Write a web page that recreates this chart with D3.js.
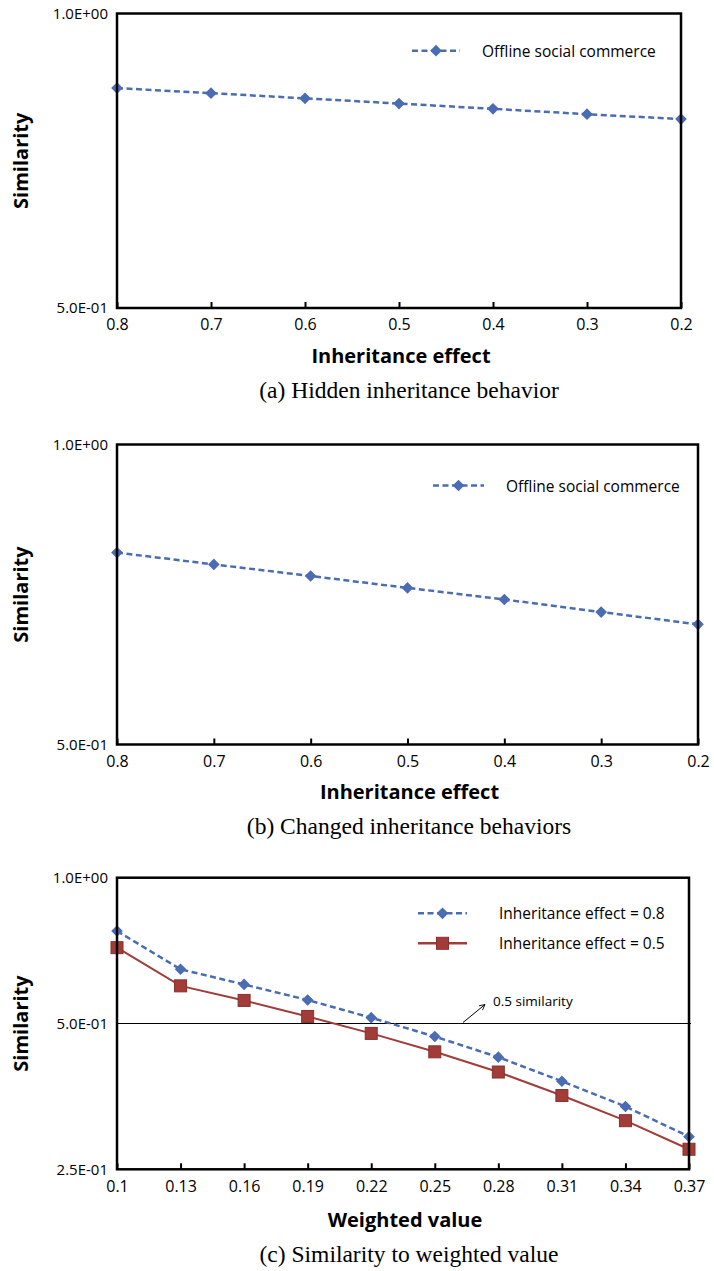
<!DOCTYPE html>
<html>
<head>
<meta charset="utf-8">
<script src="https://cdn.jsdelivr.net/npm/d3@7"></script>
<style>
  html, body { margin: 0; padding: 0; background: #fff; }
  svg { display: block; }
</style>
</head>
<body>
<svg id="chart" width="714" height="1271"></svg>
<script>
// ---------- data ----------
const inheritanceCats = ["0.8", "0.7", "0.6", "0.5", "0.4", "0.3", "0.2"];
const hiddenSimilarity = [0.839, 0.829, 0.819, 0.809, 0.799, 0.789, 0.780];
const changedSimilarity = [0.779, 0.758, 0.738, 0.718, 0.699, 0.679, 0.660];
const weightedCats = ["0.1", "0.13", "0.16", "0.19", "0.22", "0.25", "0.28", "0.31", "0.34", "0.37"];
const simIE08 = [0.776, 0.647, 0.602, 0.559, 0.514, 0.470, 0.426, 0.380, 0.337, 0.292];
const simIE05 = [0.717, 0.598, 0.558, 0.517, 0.477, 0.437, 0.397, 0.355, 0.315, 0.275];
const yTicksAB = [1.0, 0.5];
const yTicksC = [1.0, 0.5, 0.25];
const seriesNameOffline = "Offline social commerce";
const seriesName08 = "Inheritance effect = 0.8";
const seriesName05 = "Inheritance effect = 0.5";
const refLineValue = 0.5;
const refLineLabel = "0.5 similarity";

// ---------- styles ----------
const BLUE = "#4A6CB3";
const RED = "#A13C39";
const RED_DARK = "#8A302E";
const SANS = "'Open Sans', 'Noto Sans', sans-serif";
const SERIF = "'Liberation Serif', 'Times New Roman', serif";

const svg = d3.select("#chart");

svg.append("defs").append("marker")
  .attr("id", "arrow").attr("viewBox", "0 0 10 10")
  .attr("refX", 9).attr("refY", 5)
  .attr("markerWidth", 7).attr("markerHeight", 7)
  .attr("orient", "auto")
  .append("path").attr("d", "M1,1 L9,5 L1,9")
  .attr("fill", "none").attr("stroke", "#000").attr("stroke-width", 1.2);

function sci(v) {
  const [m, e] = v.toExponential(1).toUpperCase().split("E");
  const sign = e[0] === "-" ? "-" : "+";
  const n = Math.abs(parseInt(e, 10));
  return m + "E" + sign + (n < 10 ? "0" + n : n);
}

const diamond = d3.symbol().type(d3.symbolSquare).size(68);

function drawMarkers(g, kind, pts) {
  if (kind === "diamond") {
    g.selectAll(null).data(pts).enter().append("path")
      .attr("d", diamond)
      .attr("transform", d => `translate(${d[0]},${d[1]}) rotate(45)`)
      .attr("fill", BLUE);
  } else {
    g.selectAll(null).data(pts).enter().append("rect")
      .attr("x", d => d[0] - 6).attr("y", d => d[1] - 6)
      .attr("width", 12).attr("height", 12)
      .attr("fill", RED).attr("stroke", RED_DARK).attr("stroke-width", 1);
  }
}

function drawChart(cfg) {
  const g = svg.append("g");
  const x = d3.scalePoint().domain(cfg.cats).range([cfg.left, cfg.right]).padding(0);
  const y = d3.scaleLog().base(2).domain(cfg.yDomain).range([cfg.bottom, cfg.top]);

  if (cfg.refLine) {
    g.append("line")
      .attr("x1", cfg.left).attr("x2", cfg.right + 2)
      .attr("y1", y(refLineValue)).attr("y2", y(refLineValue))
      .attr("stroke", "#000").attr("stroke-width", 1);
  }

  cfg.series.forEach(s => {
    const pts = cfg.cats.map((c, i) => [x(c), y(s.values[i])]);
    g.append("path")
      .attr("d", d3.line()(pts))
      .attr("fill", "none")
      .attr("stroke", s.color)
      .attr("stroke-width", s.dash ? 2.5 : 2)
      .attr("stroke-dasharray", s.dash ? "6,3.5" : null);
    drawMarkers(g, s.marker, pts);
  });

  g.append("rect")
    .attr("x", cfg.left).attr("y", cfg.top)
    .attr("width", cfg.right - cfg.left).attr("height", cfg.bottom - cfg.top)
    .attr("fill", "none").attr("stroke", "#000").attr("stroke-width", 2.5);

  const xAxis = g.append("g").attr("transform", `translate(0,${cfg.bottom})`)
    .call(d3.axisBottom(x).tickSize(-6).tickPadding(11));
  xAxis.select(".domain").remove();
  xAxis.selectAll(".tick line").attr("stroke", "#000").attr("stroke-width", 2);
  xAxis.selectAll(".tick text")
    .attr("font-family", SANS).attr("font-size", 16).attr("fill", "#000")
    .attr("dy", "0.71em");

  const yAxis = g.append("g").attr("transform", `translate(${cfg.left},0)`)
    .call(d3.axisLeft(y).tickValues(cfg.yTicks).tickFormat(sci).tickSize(0).tickPadding(9));
  yAxis.select(".domain").remove();
  yAxis.selectAll(".tick text")
    .attr("font-family", SANS).attr("font-size", 15).attr("fill", "#000");

  g.append("text")
    .attr("x", (cfg.left + cfg.right) / 2 + 2).attr("y", cfg.xTitleY)
    .attr("text-anchor", "middle").attr("dominant-baseline", "central")
    .attr("font-family", SANS).attr("font-weight", "bold").attr("font-size", 20)
    .text(cfg.xTitle);
  g.append("text")
    .attr("transform", `translate(20,${(cfg.top + cfg.bottom) / 2}) rotate(-90)`)
    .attr("text-anchor", "middle").attr("dominant-baseline", "central")
    .attr("font-family", SANS).attr("font-weight", "bold").attr("font-size", 20)
    .text("Similarity");

  g.append("text")
    .attr("x", cfg.captionX).attr("y", cfg.captionY)
    .attr("text-anchor", "middle").attr("dominant-baseline", "central")
    .attr("font-family", SERIF).attr("font-size", 23.5)
    .text(cfg.caption);

  cfg.series.forEach((s, i) => {
    const ly = cfg.legend.y + i * cfg.legend.gap;
    g.append("line")
      .attr("x1", cfg.legend.x1).attr("x2", cfg.legend.x2)
      .attr("y1", ly).attr("y2", ly)
      .attr("stroke", s.color).attr("stroke-width", 2.5)
      .attr("stroke-dasharray", s.dash ? "6,3.5" : null);
    drawMarkers(g, s.marker, [[(cfg.legend.x1 + cfg.legend.x2) / 2, ly]]);
    g.append("text")
      .attr("x", cfg.legend.tx).attr("y", ly)
      .attr("dominant-baseline", "central")
      .attr("font-family", SANS).attr("font-size", 15.5)
      .text(s.name);
  });

  if (cfg.refLine) {
    const ya = y(refLineValue);
    g.append("line")
      .attr("x1", 463).attr("y1", ya - 1)
      .attr("x2", 485).attr("y2", ya - 19)
      .attr("stroke", "#000").attr("stroke-width", 1)
      .attr("marker-end", "url(#arrow)");
    g.append("text")
      .attr("x", 493).attr("y", ya - 23)
      .attr("dominant-baseline", "central")
      .attr("font-family", SANS).attr("font-size", 13.5)
      .text(refLineLabel);
  }
}

drawChart({
  cats: inheritanceCats, yDomain: [0.5, 1], yTicks: yTicksAB,
  left: 117, right: 681, top: 13.5, bottom: 308,
  xTitle: "Inheritance effect", xTitleY: 355,
  caption: "(a) Hidden inheritance behavior", captionX: 409, captionY: 390,
  series: [{ name: seriesNameOffline, values: hiddenSimilarity, color: BLUE, dash: true, marker: "diamond" }],
  legend: { x1: 412, x2: 460, y: 50.7, gap: 0, tx: 482 }
});

drawChart({
  cats: inheritanceCats, yDomain: [0.5, 1], yTicks: yTicksAB,
  left: 117, right: 698, top: 444.5, bottom: 744.5,
  xTitle: "Inheritance effect", xTitleY: 791,
  caption: "(b) Changed inheritance behaviors", captionX: 409, captionY: 826,
  series: [{ name: seriesNameOffline, values: changedSimilarity, color: BLUE, dash: true, marker: "diamond" }],
  legend: { x1: 433, x2: 484, y: 485.5, gap: 0, tx: 506 }
});

drawChart({
  cats: weightedCats, yDomain: [0.25, 1], yTicks: yTicksC,
  left: 117, right: 689, top: 877.7, bottom: 1169.3,
  xTitle: "Weighted value", xTitleY: 1219,
  caption: "(c) Similarity to weighted value", captionX: 409, captionY: 1254,
  refLine: true,
  series: [
    { name: seriesName08, values: simIE08, color: BLUE, dash: true, marker: "diamond" },
    { name: seriesName05, values: simIE05, color: RED, dash: false, marker: "square" }
  ],
  legend: { x1: 418, x2: 467, y: 913.3, gap: 30, tx: 499 }
});
</script>
</body>
</html>
